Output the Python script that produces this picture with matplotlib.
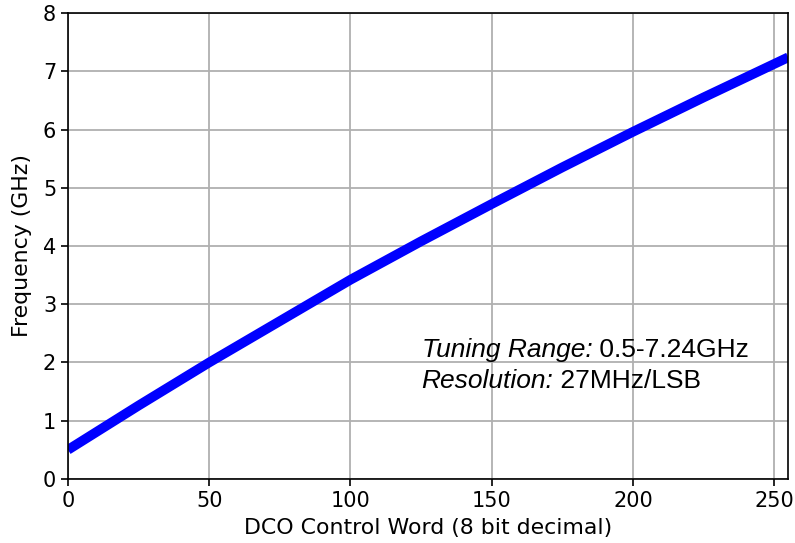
"""DCO tuning curve: frequency vs. 8-bit control word."""
import matplotlib

matplotlib.use("Agg")
import matplotlib.pyplot as plt

CODE = [0, 25, 50, 75, 100, 125, 150, 175, 200, 225, 255]
FREQ_GHZ = [0.5, 1.26, 2.0, 2.71, 3.42, 4.08, 4.72, 5.35, 5.96, 6.55, 7.24]

X_TICKS = [0, 50, 100, 150, 200, 250]
Y_TICKS = [0, 1, 2, 3, 4, 5, 6, 7, 8]

NOTE_LINES = [
    ("Tuning Range:", " 0.5-7.24GHz"),
    ("Resolution:", " 27MHz/LSB"),
]


def main() -> None:
    fig = plt.figure(figsize=(7.95, 5.43), dpi=100)
    ax = fig.add_axes([0.0855, 0.118, 0.906, 0.858])

    ax.plot(CODE, FREQ_GHZ, color="#0000ff", lw=7, solid_capstyle="butt")

    ax.set_xlim(0, 255)
    ax.set_ylim(0, 8)
    ax.set_xticks(X_TICKS)
    ax.set_yticks(Y_TICKS)
    ax.grid(True, color="#b0b0b0", lw=1.3)
    ax.set_axisbelow(True)
    ax.tick_params(labelsize=15, length=5, width=1.2)
    for sp in ax.spines.values():
        sp.set_linewidth(1.2)

    ax.set_xlabel("DCO Control Word (8 bit decimal)", fontsize=15.8, labelpad=5)
    ax.set_ylabel("Frequency (GHz)", fontsize=15.8, labelpad=8)

    # annotation: italic key + upright value, Arial-like
    for i, (key, val) in enumerate(NOTE_LINES):
        t = ax.text(125.2, 2.10 - 0.545 * i, key, fontsize=19, style="italic",
                    family="Liberation Sans", va="baseline", ha="left")
        ax.annotate(val, xy=(1, 0), xycoords=t, va="bottom", ha="left",
                    fontsize=19, family="Liberation Sans")

    fig.savefig("out.png", dpi=100, facecolor="white")


if __name__ == "__main__":
    main()
